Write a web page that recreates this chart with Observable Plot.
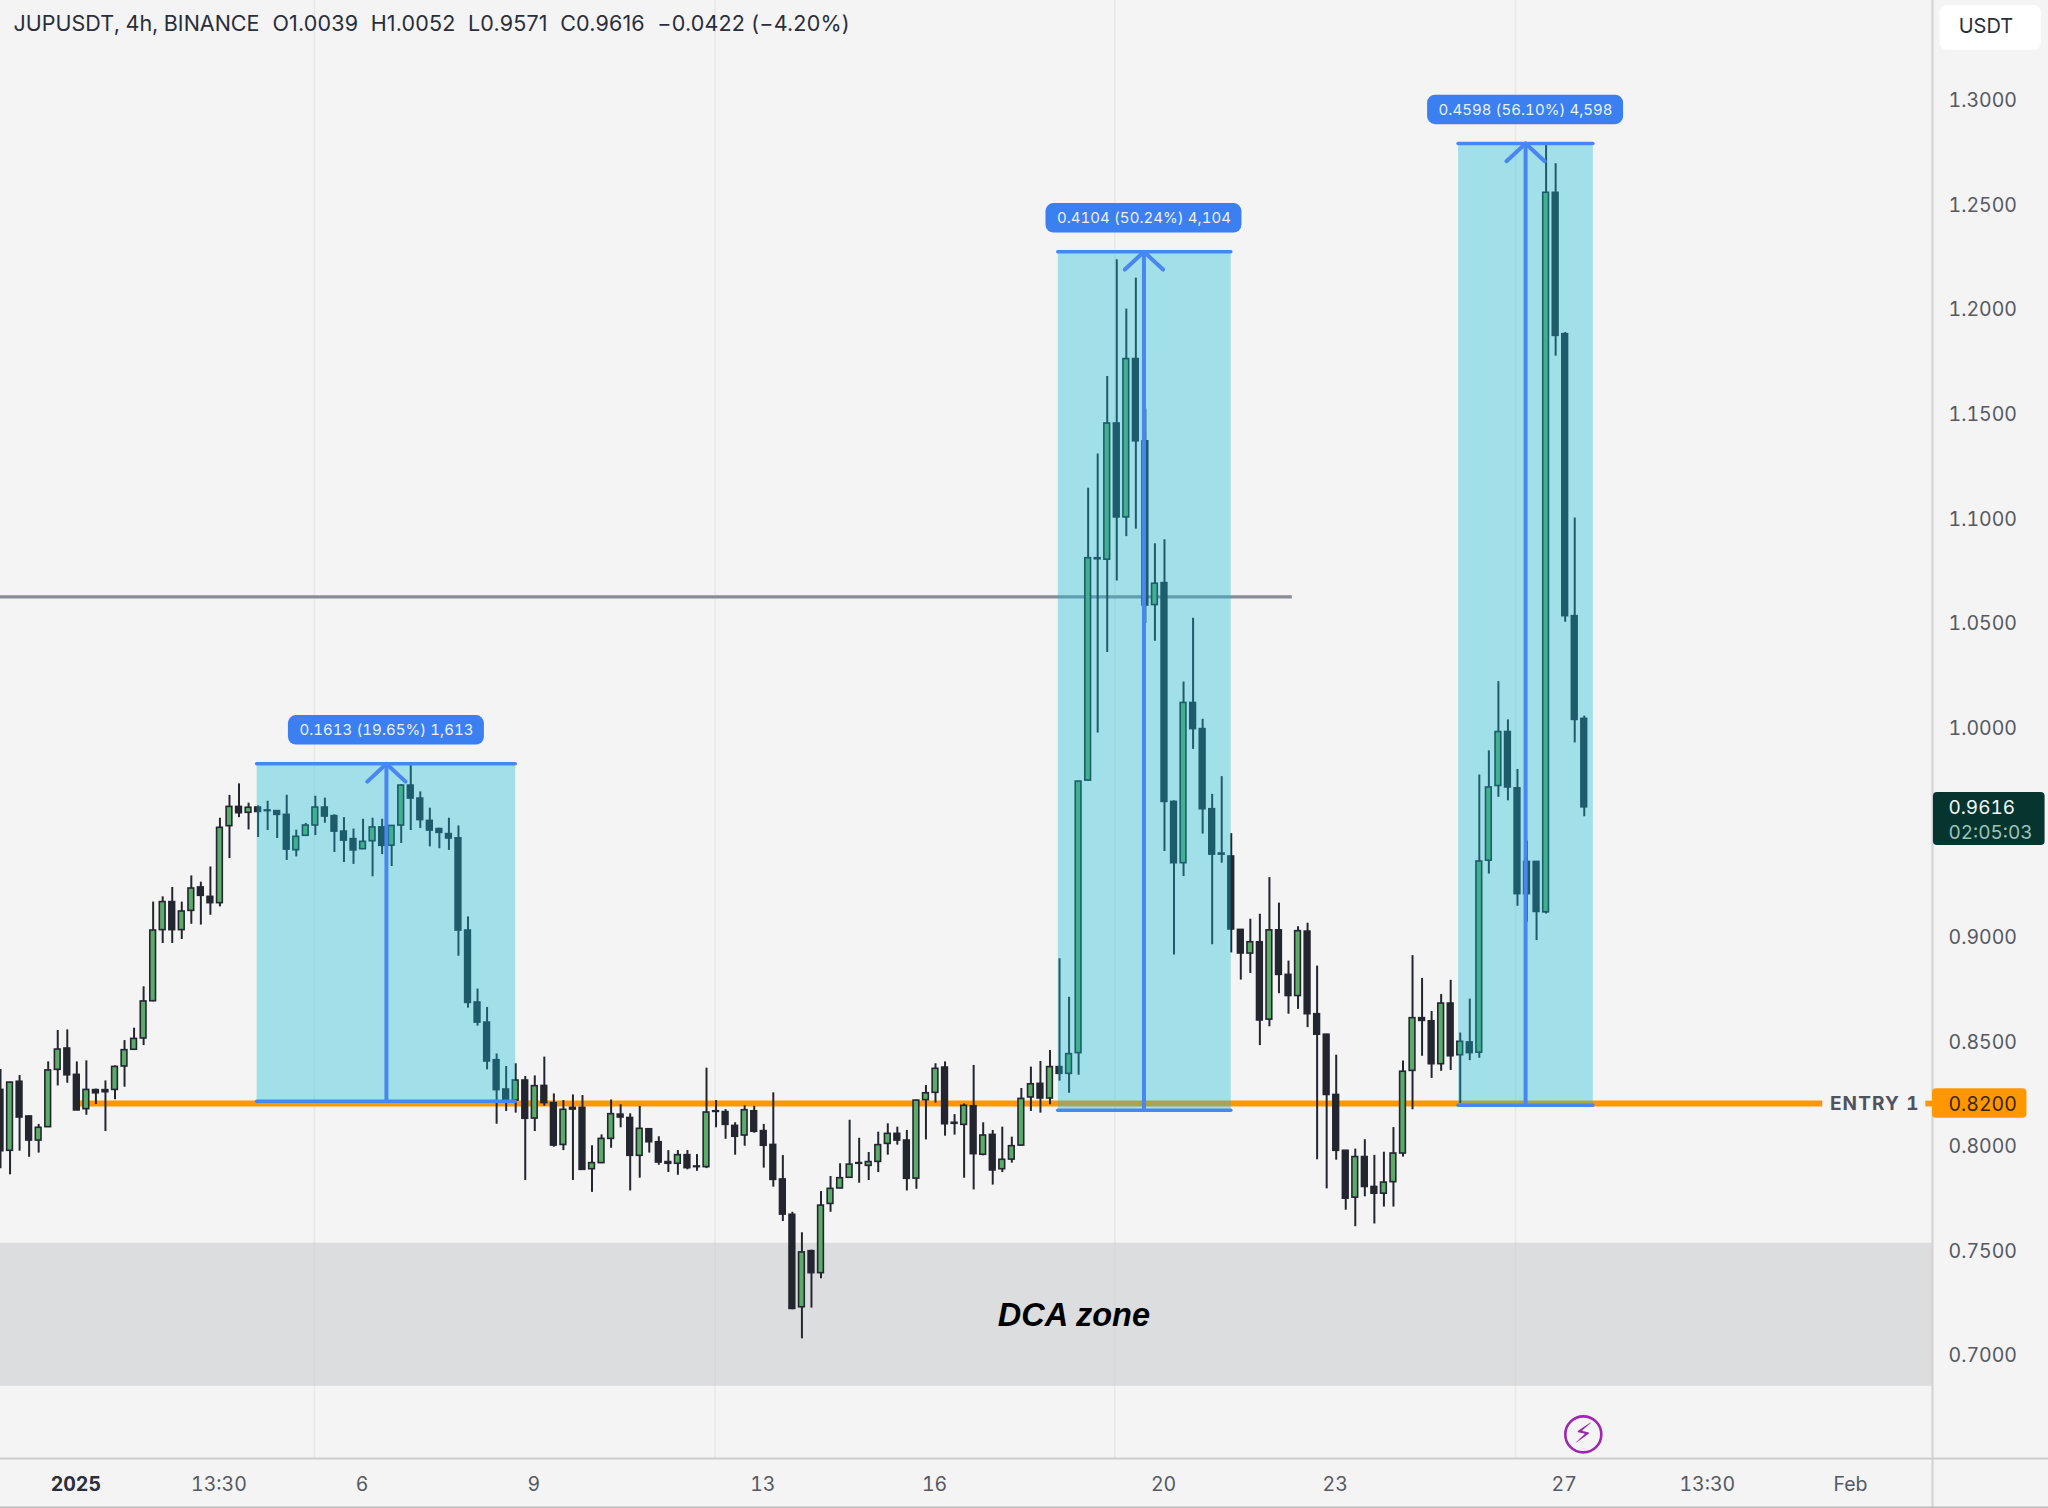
<!DOCTYPE html>
<html>
<head>
<meta charset="utf-8">
<script src="https://cdn.jsdelivr.net/npm/d3@7"></script>
<script src="https://cdn.jsdelivr.net/npm/@observablehq/plot@0.6"></script>
<style>
html,body{margin:0;padding:0;background:#f4f4f4;}
svg{display:block;}
</style>
</head>
<body>
<div id="chart"></div>
<script>
const opens=[.8265,.7974,.8304,.8138,.8023,.8087,.8361,.8463,.8337,.8173,
.8264,.8264,.8265,.8377,.8457,.8511,.8689,.9029,.9163,.9029,
.9121,.9233,.9188,.9158,.9526,.9618,.9590,.9615,.9601,.9598,
.9580,.9411,.9480,.9529,.9615,.9574,.9500,.9464,.9416,.9454,
.9520,.9433,.9529,.9720,.9658,.9551,.9512,.9488,.9468,.9027,
.8683,.8587,.8407,.8267,.8214,.8310,.8128,.8284,.8202,.8002,
.8179,.8179,.7886,.7915,.8031,.8147,.8131,.7950,.8077,.8015,
.7920,.7912,.7953,.7899,.7896,.8163,.8159,.8093,.8047,.8163,
.8068,.8002,.7837,.7668,.7226,.7494,.7389,.7720,.7794,.7845,
.7915,.7902,.7921,.8007,.8055,.8023,.7841,.8216,.8251,.8372,
.8108,.8098,.8187,.7955,.8050,.7886,.7932,.7999,.8229,.8294,
.8224,.8374,.8342,.8441,.9744,1.0807,1.0800,1.1451,1.1002,1.1759,
1.1366,1.0583,1.0688,.9642,.9349,1.0115,.9990,.9607,.9395,.9381,
.9030,.8917,.8971,.8601,.9028,.8815,.8714,.9022,.8627,.8529,
.8241,.7974,.7750,.7944,.7801,.7769,.7824,.7961,.8356,.8608,
.8593,.8388,.8678,.8431,.8492,.8443,.9361,.9718,.9976,.9707,
.9355,.9355,.9114,1.2554,1.1878,1.0530,1.0039];
const closes=[.7972,.8300,.8133,.8023,.8084,.8358,.8458,.8335,.8167,.8265,
.8249,.8254,.8375,.8455,.8509,.8688,.9027,.9163,.9029,.9118,
.9228,.9193,.9158,.9518,.9618,.9588,.9614,.9594,.9598,.9580,
.9414,.9475,.9529,.9615,.9572,.9500,.9457,.9410,.9451,.9520,
.9432,.9527,.9720,.9658,.9555,.9505,.9494,.9467,.9027,.8681,
.8587,.8401,.8264,.8214,.8310,.8127,.8283,.8202,.7999,.8170,
.8171,.7883,.7915,.8031,.8149,.8133,.7950,.8079,.8015,.7918,
.7912,.7953,.7891,.7896,.8157,.8160,.8098,.8041,.8168,.8065,
.7998,.7835,.7669,.7218,.7488,.7389,.7712,.7792,.7843,.7908,
.7912,.7920,.8001,.8055,.8023,.7840,.8214,.8249,.8366,.8101,
.8103,.8189,.7958,.8047,.7880,.7931,.7996,.8222,.8292,.8224,
.8374,.8342,.8436,.9739,1.0807,1.0802,1.1451,1.1002,1.1759,1.1366,
1.0581,1.0685,.9642,.9349,1.0115,.9990,.9607,.9390,.9390,.9032,
.8917,.8971,.8597,.9028,.8815,.8714,.9024,.8627,.8529,.8241,
.7974,.7745,.7944,.7801,.7769,.7822,.7961,.8352,.8608,.8595,
.8388,.8678,.8426,.8495,.8441,.9357,.9711,.9976,.9711,.9201,
.9201,.9116,1.2554,1.1870,1.0530,1.0034,.9616];
const highs=[.8363,.8302,.8334,.8140,.8100,.8399,.8549,.8552,.8399,.8404,
.8269,.8308,.8380,.8501,.8560,.8758,.9163,.9188,.9233,.9163,
.9288,.9258,.9331,.9564,.9673,.9728,.9636,.9623,.9645,.9600,
.9674,.9507,.9539,.9669,.9660,.9580,.9567,.9512,.9559,.9564,
.9559,.9529,.9724,.9822,.9690,.9612,.9516,.9564,.9527,.9092,
.8747,.8659,.8437,.8377,.8390,.8329,.8332,.8422,.8246,.8214,
.8241,.8238,.7998,.8050,.8217,.8194,.8151,.8186,.8080,.8041,
.7975,.7975,.7975,.7956,.8369,.8214,.8171,.8108,.8189,.8186,
.8100,.8251,.7951,.7680,.7582,.7499,.7779,.7851,.7912,.8120,
.8034,.7966,.8063,.8103,.8087,.8071,.8216,.8286,.8390,.8399,
.8147,.8198,.8382,.8108,.8071,.8087,.8039,.8272,.8374,.8401,
.8453,.8892,.8708,.9741,1.1142,1.1305,1.1676,1.2234,1.1998,1.2146,
1.1520,1.0876,1.0895,.9647,1.0215,1.0520,1.0037,.9678,.9763,.9490,
.9032,.9081,.9105,.9280,.9158,.8881,.9045,.9062,.8857,.8531,
.8431,.7976,.7982,.8027,.7952,.7967,.8085,.8403,.8907,.8798,
.8640,.8721,.8789,.8537,.8699,.9771,.9886,1.0217,1.0034,.9797,
.9455,.9357,1.2790,1.2693,1.1886,1.0999,1.0052];
const lows=[.7888,.7859,.7972,.7943,.7963,.8085,.8284,.8297,.8165,.8144,
.8195,.8066,.8218,.8278,.8455,.8477,.8687,.8965,.8965,.8984,
.9057,.9053,.9100,.9140,.9371,.9567,.9508,.9472,.9505,.9467,
.9362,.9379,.9478,.9481,.9540,.9400,.9352,.9343,.9414,.9284,
.9390,.9333,.9443,.9505,.9515,.9427,.9418,.9410,.8904,.8656,
.8570,.8361,.8101,.8162,.8154,.7832,.8066,.8187,.7991,.7975,
.7832,.7881,.7775,.7913,.7986,.8084,.7782,.7843,.7963,.7905,
.7870,.7857,.7883,.7876,.7889,.8084,.8029,.7953,.7996,.8058,
.7891,.7800,.7636,.7214,.7075,.7222,.7362,.7680,.7792,.7843,
.7819,.7832,.7870,.7953,.8001,.7782,.7790,.8026,.8202,.8044,
.8049,.7843,.7787,.7950,.7810,.7870,.7915,.7997,.8162,.8154,
.8194,.8307,.8249,.8335,.9742,.9971,1.0356,1.0698,1.0910,1.0946,
1.0495,1.0410,.9405,.8910,.9285,.9893,.9488,.8959,.9349,.8920,
.8790,.8822,.8477,.8567,.8725,.8627,.8650,.8563,.7931,.7792,
.7929,.7690,.7611,.7754,.7624,.7705,.7705,.7944,.8170,.8426,
.8320,.8354,.8358,.8200,.8405,.8416,.9297,.9664,.9647,.9143,
.9067,.8979,.9106,1.1773,1.0501,.9924,.9571];

const priceTicks=[.7,.75,.8,.85,.9,.95,1,1.05,1.1,1.15,1.2,1.25,1.3];
const timeTicks=[22.9,37.9,55.9,79.9,97.9,121.9,139.9,163.9,178.9,193.9];
const timeLabels=["13:30","6","9","13","16","20","23","27","13:30","Feb"];
const yearTick=[7.9], yearLabel=["2025"];
const gridBars=[32.9,74.9,116.8,158.8];

// measured moves: candle span, arrow bar, base / top price, caption
const boxStart=[26.9,110.87,152.83];
const boxEnd=[54,129,166.95];
const boxMid=[40.45,119.85,159.85];
const boxBase=[.8211,.8168,.8192];
const boxTop=[.9824,1.2272,1.279];
const boxLabel=["0.1613 (19.65%) 1,613","0.4104 (50.24%) 4,104","0.4598 (56.10%) 4,598"];

const entryPrice=.82, lastPrice=.9616, resistance=1.0622;
const zoneLow=.6848, zoneHigh=.7532;

const headerName="JUPUSDT, 4h, BINANCE";
const headerValues="O1.0039  H1.0052  L0.9571  C0.9616  −0.0422 (−4.20%)";

const W=2048,H=1508;
const panelX=202.5, rightX=214.67, axisPrice=.65029, topPrice=1.34733, endPrice=.6269;
const dark="#23262f", green="#5bab69", blue="#4a86f0", pill="#3b7ff0", textCol="#555962";

const candles=opens.map((o,i)=>({i,o,c:closes[i],h:highs[i],l:lows[i]}));
const boxes=boxStart.map((s,k)=>({k,s,e:boxEnd[k],m:boxMid[k],b:boxBase[k],t:boxTop[k],label:boxLabel[k]}));
const heads=boxes.flatMap(b=>[
  {k:b.k,x:b.m-2,y:b.t-.0085},{k:b.k,x:b.m,y:b.t},{k:b.k,x:b.m+2,y:b.t-.0085}]);
const pillH=.0141, pillGap=.016, pillHalf=10.27;

const chart=Plot.plot({
  width:W,height:H,
  marginLeft:0,marginRight:116,marginTop:0,marginBottom:50,
  style:{background:"#f4f4f4",fontFamily:"Inter, 'Noto Sans', sans-serif",overflow:"visible",fontVariantNumeric:"tabular-nums"},
  x:{type:"linear",domain:[0,panelX]},
  y:{type:"linear",domain:[axisPrice,topPrice]},
  marks:[
    // grid + zone
    Plot.ruleX(gridBars,{x:d=>d,y1:axisPrice,y2:topPrice,stroke:"#e8e8e9",strokeWidth:1.5}),
    Plot.rect([0],{x1:0,x2:panelX,y1:zoneLow,y2:zoneHigh,fill:"#dcdddf"}),
    Plot.ruleX(gridBars,{x:d=>d,y1:zoneLow,y2:zoneHigh,stroke:"#d6d7d9",strokeWidth:1.5}),
    // level lines
    Plot.ruleY([resistance],{x1:0,x2:135.4,stroke:"#8a8d96",strokeWidth:3.4}),
    Plot.ruleY([entryPrice],{x1:7.9,x2:191,stroke:"#ff9800",strokeWidth:5.8}),
    // candles
    Plot.ruleX(candles,{x:"i",y1:"l",y2:"h",stroke:dark,strokeWidth:2}),
    Plot.rect(candles,{x1:d=>d.i-.3,x2:d=>d.i+.3,y1:"o",y2:"c",
      fill:d=>d.c>=d.o?green:dark,stroke:dark,strokeWidth:1.6}),
    // measured-move boxes over candles
    Plot.rect(boxes,{x1:"s",x2:"e",y1:"b",y2:"t",fill:"#10bdd5",fillOpacity:.36}),
    Plot.ruleY(boxes,{y:"t",x1:"s",x2:"e",stroke:blue,strokeWidth:3.6,strokeLinecap:"round"}),
    Plot.ruleY(boxes,{y:"b",x1:"s",x2:"e",stroke:blue,strokeWidth:3.6,strokeLinecap:"round"}),
    Plot.ruleX(boxes,{x:"m",y1:"b",y2:"t",stroke:blue,strokeWidth:4}),
    Plot.line(heads,{x:"x",y:"y",z:"k",stroke:blue,strokeWidth:4,strokeLinecap:"round",curve:"linear"}),
    Plot.rect(boxes,{x1:d=>d.m-pillHalf,x2:d=>d.m+pillHalf,y1:d=>d.t+pillGap-pillH/2,y2:d=>d.t+pillGap+pillH/2,fill:pill,rx:8}),
    Plot.text(boxes,{x:"m",y:d=>d.t+pillGap,text:"label",fill:"#eaf1fe",fontSize:15,className:"pilltext"}),
    // DCA label
    Plot.text(["DCA zone"],{x:[112.5],y:[.7188],text:d=>d,fontFamily:"'Liberation Sans'",fontWeight:700,fontStyle:"italic",fontSize:32.5,fill:"#000"}),
    // frame lines
    Plot.ruleX([panelX],{y1:endPrice,y2:topPrice,stroke:"#d2d2d3",strokeWidth:2}),
    Plot.ruleY([axisPrice],{x1:0,x2:rightX,stroke:"#cdcdce",strokeWidth:2}),
    Plot.ruleY([endPrice],{x1:0,x2:rightX,stroke:"#bcbcbd",strokeWidth:2}),
    // axes
    Plot.axisY(priceTicks,{anchor:"right",label:null,tickSize:0,tickPadding:16,dy:1.5,tickFormat:d3.format(".4f"),fontSize:19.5,fill:textCol}),
    Plot.axisX(timeTicks,{anchor:"bottom",label:null,tickSize:0,tickPadding:19,tickFormat:d=>timeLabels[timeTicks.indexOf(d)],fontSize:19.5,fill:textCol}),
    Plot.axisX(yearTick,{anchor:"bottom",label:null,tickSize:0,tickPadding:19,tickFormat:d=>yearLabel[yearTick.indexOf(d)],fontSize:19.5,fontWeight:700,fill:"#2a2e39"}),
    // entry tag
    Plot.text(["ENTRY 1"],{x:[196.45],y:[entryPrice],text:d=>d,fontWeight:700,fontSize:19,fill:"#50535e",className:"entrytext"}),
    Plot.ruleY([entryPrice],{x1:201.8,x2:panelX,stroke:"#ff9800",strokeWidth:5.8}),
    Plot.rect([0],{x1:panelX,x2:212.4,y1:entryPrice-.0071,y2:entryPrice+.0071,fill:"#ff9800",rx:4}),
    Plot.text(["0.8200"],{x:[204.17],y:[entryPrice],text:d=>d,textAnchor:"start",fontSize:19.5,dy:1,fill:"#3a2600"}),
    // last price tag
    Plot.rect([0],{x1:panelX+.1,x2:214.3,y1:.9433,y2:.9687,fill:"#06342e",rx:4}),
    Plot.text([String(lastPrice.toFixed(4))],{x:[204.17],y:[.9612],text:d=>d,textAnchor:"start",fontSize:19,fill:"#f2f6f5"}),
    Plot.text(["02:05:03"],{x:[204.17],y:[.9492],text:d=>d,textAnchor:"start",fontSize:19,fill:"#9cc2ba"}),
    // currency button
    Plot.rect([0],{x1:203.3,x2:213.9,y1:1.3235,y2:1.3449,fill:"#fff",rx:7}),
    Plot.text(["USDT"],{x:[208.1],y:[1.3348],text:d=>d,fontSize:20,fill:"#2a2e39"}),
    // flash marker
    Plot.dot([0],{x:[165.9],y:[.6618],r:18,stroke:"#9c27b0",strokeWidth:2.6,fill:"none"}),
    Plot.text(["⚡"],{x:[165.9],y:[.6618],text:d=>d,fontSize:28,fill:"#9c27b0",fontFamily:"'DejaVu Sans'"}),
    // header
    Plot.text([headerName],{frameAnchor:"top-left",dx:13,dy:15,text:d=>d,fontSize:21.5,fill:"#2a2e39",textAnchor:"start",lineAnchor:"top"}),
    Plot.text([headerValues],{frameAnchor:"top-left",dx:272,dy:15,text:d=>d,fontSize:21.5,fill:"#2a2e39",textAnchor:"start",lineAnchor:"top",className:"hdrvalues"})
  ]
});
d3.select(chart).selectAll(".pilltext text, g.pilltext text").style("letter-spacing","0.05px");
d3.select(chart).selectAll(".entrytext text, g.entrytext text").style("letter-spacing","1.1px");
d3.select(chart).selectAll(".hdrvalues text, g.hdrvalues text").style("font-variant-numeric","normal").style("letter-spacing","0.17px");
document.getElementById("chart").appendChild(chart);
</script>
</body>
</html>
